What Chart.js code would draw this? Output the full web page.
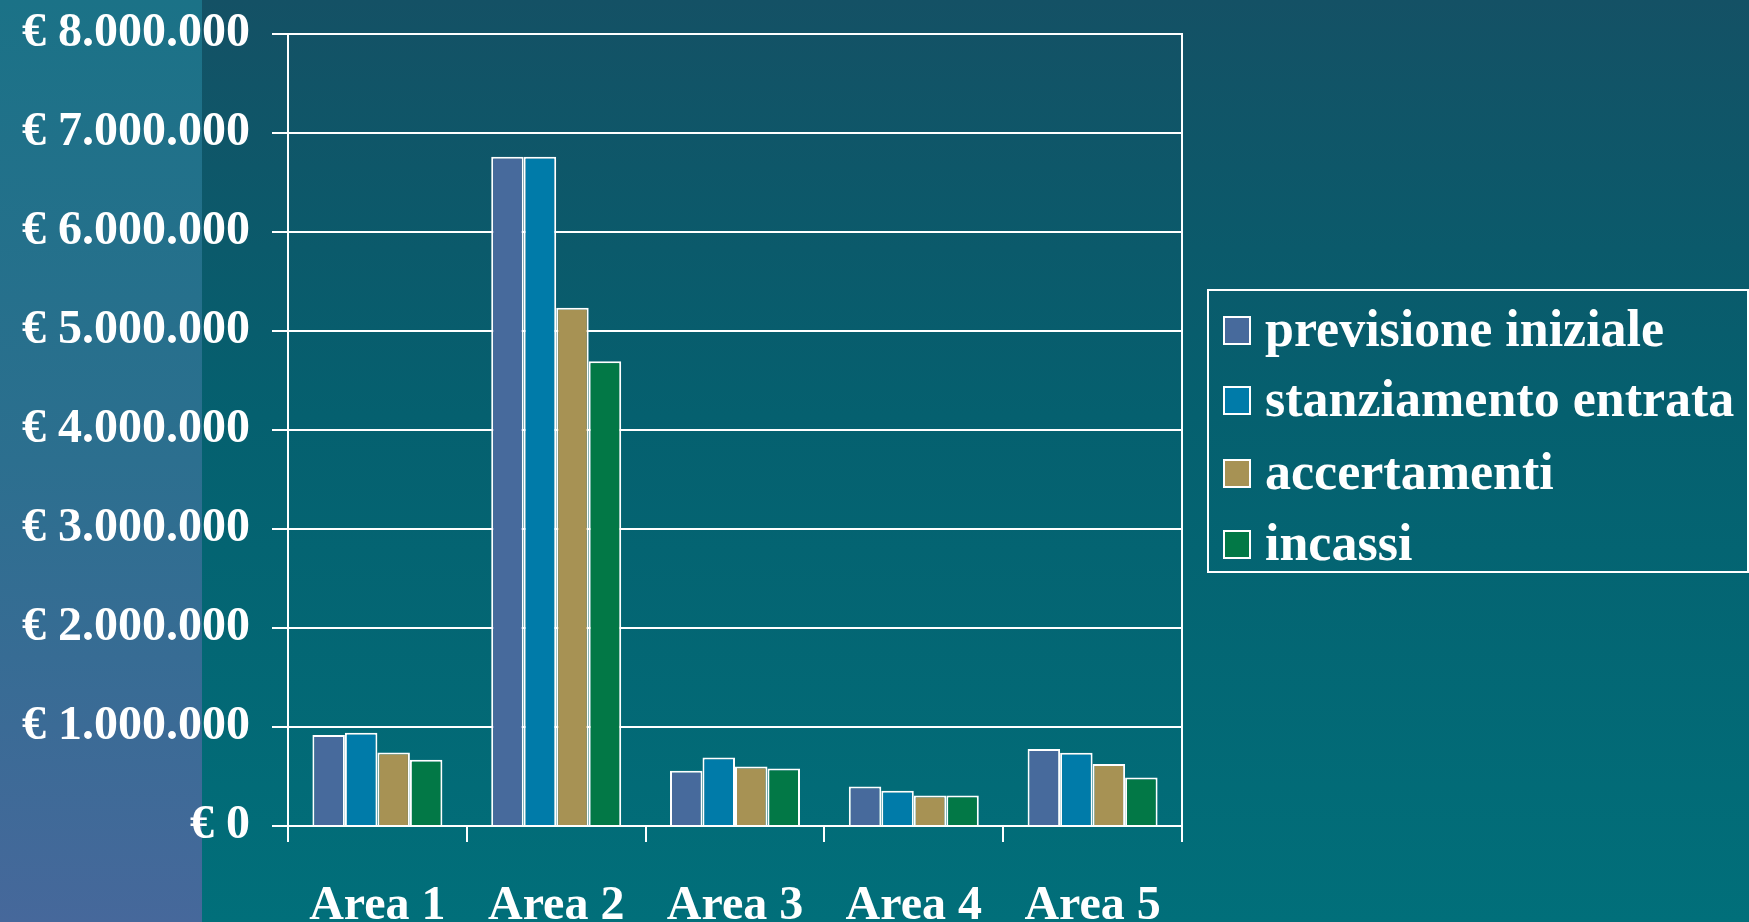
<html>
<head>
  <meta charset="utf-8">
  <title>Entrate per area</title>
  <script src="https://cdn.jsdelivr.net/npm/chart.js"></script>
  <style>
    html, body {
      margin: 0;
      padding: 0;
    }
    body {
      width: 1749px;
      height: 922px;
      overflow: hidden;
      background: linear-gradient(to bottom, #145165 0%, #05606f 45%, #016f7a 100%);
      position: relative;
      font-family: 'Liberation Serif', serif;
    }
    .strip {
      position: absolute;
      left: 0;
      top: 0;
      width: 202px;
      height: 922px;
      background: linear-gradient(to bottom, #1b7287 0%, #2c6f8f 50%, #46689b 100%);
    }
    .wrap {
      position: absolute;
      left: 0;
      top: 0;
      width: 1749px;
      height: 922px;
    }
    .legend {
      position: absolute;
      left: 1207px;
      top: 289px;
      width: 538px;
      height: 280px;
      border: 2px solid #fff;
      color: #fff;
      font-weight: bold;
      font-size: 52px;
    }
    .legend .item {
      position: absolute;
      left: 14px;
      height: 60px;
      line-height: 60px;
      white-space: nowrap;
    }
    .legend .sw {
      display: inline-block;
      width: 24px;
      height: 25px;
      border: 2px solid #fff;
      vertical-align: middle;
      margin-right: 14px;
      position: relative;
      top: -4px;
    }
  </style>
</head>
<body>
  <div class="strip"></div>
  <div class="wrap"><canvas id="chart" width="1749" height="922"></canvas></div>
  <div class="legend" id="legend"></div>

<script>
const areas = ['Area 1', 'Area 2', 'Area 3', 'Area 4', 'Area 5'];
const seriesNames = ['previsione iniziale', 'stanziamento entrata', 'accertamenti', 'incassi'];
const seriesColors = ['#476a9c', '#007ba9', '#a79254', '#027846'];

const previsione = [918000, 6760000, 557000, 398000, 778000];
const stanziamento = [943000, 6760000, 692000, 357000, 740000];
const accertamenti = [742000, 5235000, 602000, 307000, 627000];
const incassi = [668000, 4695000, 581000, 307000, 489000];

function euro(v) {
  const s = Math.round(v).toString().replace(/\B(?=(\d{3})+(?!\d))/g, '.');
  return '€ ' + s;
}

const axisFont = { family: "'Liberation Serif', serif", size: 48, weight: 'bold' };

const allValues = [previsione, stanziamento, accertamenti, incassi];

new Chart(document.getElementById('chart'), {
  type: 'bar',
  data: {
    labels: areas,
    datasets: allValues.map((vals, i) => ({
      label: seriesNames[i],
      data: vals,
      backgroundColor: seriesColors[i],
      borderColor: '#ffffff',
      borderWidth: 2,
      borderSkipped: 'bottom',
      categoryPercentage: 0.727,
      barPercentage: 1.0
    }))
  },
  options: {
    responsive: false,
    animation: false,
    events: [],
    layout: {
      padding: { top: 34, right: 567, left: 0, bottom: 0 }
    },
    plugins: {
      legend: { display: false },
      tooltip: { enabled: false }
    },
    scales: {
      x: {
        offset: true,
        grid: {
          offset: true,
          drawOnChartArea: false,
          drawTicks: true,
          tickLength: 16,
          color: '#ffffff',
          lineWidth: 2
        },
        border: { display: true, color: '#ffffff', width: 2 },
        ticks: {
          color: '#ffffff',
          font: axisFont,
          padding: 36,
          maxRotation: 0
        },
        afterFit(scale) { scale.height = 96; }
      },
      y: {
        min: 0,
        max: 8000000,
        ticks: {
          stepSize: 1000000,
          color: '#ffffff',
          font: axisFont,
          padding: 22,
          callback: v => euro(v)
        },
        grid: {
          color: '#ffffff',
          lineWidth: 2,
          tickLength: 16
        },
        border: { display: true, color: '#ffffff', width: 2 },
        afterFit(scale) {
          scale.width = 288;
          scale.paddingTop = 0;
          scale.paddingBottom = 0;
        }
      },
      y2: {
        position: 'right',
        min: 0,
        max: 8000000,
        ticks: { display: false },
        grid: { display: false },
        border: { display: true, color: '#ffffff', width: 2 },
        afterFit(scale) { scale.width = 0; }
      }
    }
  }
});

// HTML legend
const legend = document.getElementById('legend');
const itemTops = [8, 78, 151, 222];
seriesNames.forEach((name, i) => {
  const item = document.createElement('div');
  item.className = 'item';
  item.style.top = itemTops[i] + 'px';
  item.innerHTML = `<span class="sw" style="background:${seriesColors[i]}"></span>${name}`;
  legend.appendChild(item);
});
</script>
</body>
</html>
